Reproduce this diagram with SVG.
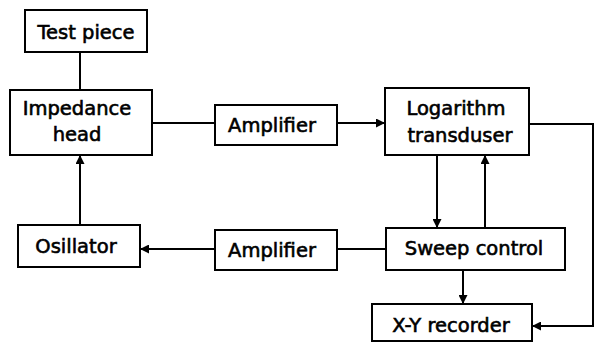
<svg xmlns="http://www.w3.org/2000/svg" width="595" height="343" viewBox="0 0 595 343">
<style>
.box{fill:#fff;stroke:#000;stroke-width:2}
.t{font-family:"DejaVu Sans","Liberation Sans",sans-serif;font-size:19.5px;fill:#000;stroke:#000;stroke-width:0.6;text-anchor:middle}
.c{fill:none;stroke:#000;stroke-width:2}
</style>
<defs>
<marker id="ah" viewBox="0 0 10 10" refX="10" refY="5" markerWidth="4.5" markerHeight="4.5" orient="auto"><path d="M0,0 L10,5 L0,10 z" fill="#000"/></marker>
</defs>
<g id="connectors">
<path class="c" d="M80,52 V90"/>
<path class="c" d="M80,225 V155" marker-end="url(#ah)"/>
<path class="c" d="M152,123 H215"/>
<path class="c" d="M337,123 H385" marker-end="url(#ah)"/>
<path class="c" d="M529,124 H593 V326 H532" marker-end="url(#ah)"/>
<path class="c" d="M437,155 V228" marker-end="url(#ah)"/>
<path class="c" d="M485,228 V155" marker-end="url(#ah)"/>
<path class="c" d="M463,270 V304" marker-end="url(#ah)"/>
<path class="c" d="M386,249 H337"/>
<path class="c" d="M215,249 H140" marker-end="url(#ah)"/>
</g>
<g id="test-piece"><rect class="box" x="25" y="10" width="122" height="42"/><text class="t" x="86" y="39">Test piece</text></g>
<g id="impedance-head"><rect class="box" x="10" y="90" width="142" height="65"/><text class="t" x="77" y="115">Impedance</text><text class="t" x="77" y="141">head</text></g>
<g id="amplifier-top"><rect class="box" x="215" y="105" width="122" height="40"/><text class="t" x="272" y="132">Amplifier</text></g>
<g id="logarithm-transduser"><rect class="box" x="385" y="88" width="144" height="67"/><text class="t" x="456" y="115">Logarithm</text><text class="t" x="460" y="142">transduser</text></g>
<g id="osillator"><rect class="box" x="18" y="225" width="122" height="42"/><text class="t" x="76" y="253">Osillator</text></g>
<g id="amplifier-bottom"><rect class="box" x="215" y="230" width="122" height="40"/><text class="t" x="272" y="257">Amplifier</text></g>
<g id="sweep-control"><rect class="box" x="386" y="228" width="179" height="42"/><text class="t" x="474" y="255">Sweep control</text></g>
<g id="xy-recorder"><rect class="box" x="372" y="304" width="160" height="37"/><text class="t" x="451" y="332">X-Y recorder</text></g>
</svg>
